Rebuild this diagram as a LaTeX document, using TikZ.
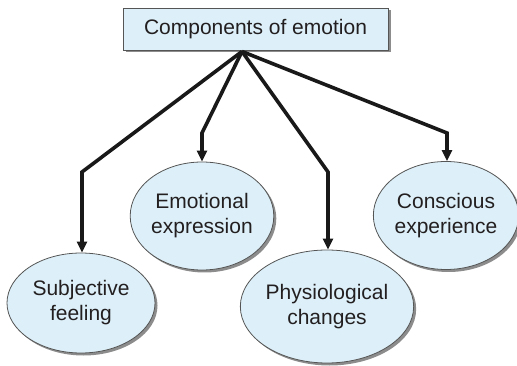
\documentclass[tikz,border=0pt]{standalone}
\usepackage{fontspec}
\setmainfont{Liberation Sans}
\usetikzlibrary{shapes.geometric,shadows,arrows.meta}
\definecolor{paleblue}{HTML}{DDF0F9}
\definecolor{inkgray}{HTML}{231F20}
\definecolor{edgegray}{HTML}{555555}
\begin{document}
\begin{tikzpicture}[x=1pt,y=-1pt,
  shade box/.style={drop shadow={shadow xshift=2.5pt,shadow yshift=-2.5pt,fill=black!45,opacity=1}},
  titlebox/.style={draw=edgegray,line width=0.8pt,fill=paleblue,shade box,
    inner sep=0pt,text=inkgray,font=\fontsize{21}{25}\selectfont},
  bubble/.style={ellipse,draw=edgegray,line width=0.8pt,fill=paleblue,shade box,
    inner sep=0pt,align=center,text=inkgray,font=\fontsize{21}{25}\selectfont},
  link/.style={line width=3.6pt,draw=black!90,line join=miter,
    -{Triangle[length=11pt,width=10pt]}}
]
\useasboundingbox (0,0) rectangle (517,366);

\node[titlebox,minimum width=265pt,minimum height=42pt] (top) at (255.5,29) {Components of emotion};

\node[bubble,minimum width=148pt,minimum height=100pt] (subj) at (81,303) {Subjective\\feeling};
\node[bubble,minimum width=142pt,minimum height=108pt] (expr) at (202,216) {Emotional\\expression};
\node[bubble,minimum width=140pt,minimum height=113pt] (phys) at (327,306.5) {Physiological\\changes};
\node[bubble,minimum width=141pt,minimum height=108pt] (consc) at (446,215.5) {Conscious\\experience};

% common starting point under the title box and the bends of each connector
\coordinate (hub) at (242,51.5);
\coordinate (b1) at (82,172);
\coordinate (b2) at (202,133);
\coordinate (b3) at (328,172);
\coordinate (b4) at (447,133);

\draw[link] (hub) -- (b1) -- (b1 |- subj.north);
\draw[link] (hub) -- (b2) -- (b2 |- expr.north);
\draw[link] (hub) -- (b3) -- (b3 |- phys.north);
\draw[link] (hub) -- (b4) -- (b4 |- consc.north);
\end{tikzpicture}
\end{document}
